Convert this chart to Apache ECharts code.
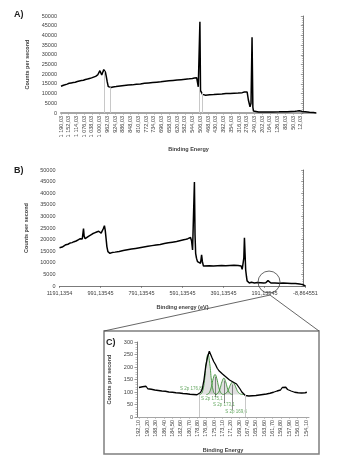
<!DOCTYPE html>
<html><head><meta charset="utf-8">
<script src="https://cdn.jsdelivr.net/npm/echarts@6/dist/echarts.min.js"></script>
<style>html,body{margin:0;padding:0;background:#fff}#c{width:337px;height:463px}</style>
</head><body><div id="c"></div>
<script>
// ---------- Panel A (survey, Excel category-style axis) ----------
const A_energy = [1190,1185,1178,1170,1160,1150,1140,1130,1120,1110,1100,1090,1080,1070,1060,1050,1040,1030,1020,1010,1004,999,995,990,986,980,976,972,968,963,958,952,945,935,920,900,880,860,840,820,800,780,760,740,720,700,680,660,640,620,600,580,560,545,535,528,524,520,516,512,508,505,500,495,490,480,460,440,420,400,380,360,340,320,300,290,282,276,270,262,257,252,248,245,240,220,200,180,150,120,100,80,60,40,30,20,15,5,-10,-30,-50,-62];
const A_counts = [13800,14600,14300,15000,14900,15300,15500,15700,15900,16200,16500,16700,16900,17300,17500,17800,18100,18500,18900,19600,20600,21800,21000,19600,20500,22400,23000,21000,19000,16000,13600,13000,13200,13400,13600,13900,14200,14400,14500,14800,15000,15300,15500,15700,15900,16100,16400,16600,16800,17000,17200,17400,17600,17800,18000,18300,18200,17500,13500,12500,47000,11500,10500,9600,9300,9200,9400,9500,9700,9800,10000,10100,10200,10300,10500,10800,11000,10800,6700,3200,5000,39000,3000,1000,600,500,550,500,550,600,650,700,800,900,1000,1200,900,800,700,400,200,0];
const A_fitLineE = [979, 949, 513, 498];
const A_fitLineTop = [21500, 13200, 12500, 10500];
const A_tickValues = [1190.03,1152.03,1114.03,1076.03,1038.03,1000.03,962.03,924.03,886.03,848.03,810.03,772.03,734.03,696.03,658.03,620.03,582.03,544.03,506.03,468.03,430.03,392.03,354.03,316.03,278.03,240.03,202.03,164.03,126.03,88.03,50.03,12.03];
const A_tickLabels = ["1 190,03","1 152,03","1 114,03","1 076,03","1 038,03","1 000,03","962,03","924,03","886,03","848,03","810,03","772,03","734,03","696,03","658,03","620,03","582,03","544,03","506,03","468,03","430,03","392,03","354,03","316,03","278,03","240,03","202,03","164,03","126,03","88,03","50,03","12,03"];

// ---------- Panel B (survey, eV) ----------
const B_energy = [1191,1185,1178,1170,1160,1150,1140,1130,1120,1110,1100,1090,1085,1080,1077,1074,1071,1066,1060,1050,1040,1030,1020,1010,1000,993,988,982,977,972,968,964,960,955,950,945,935,920,900,880,860,840,820,800,780,760,740,720,700,680,660,640,620,600,580,565,552,547,542,537,533,530,527,523,518,510,503,498,494,489,480,460,440,420,400,380,360,340,320,312,305,300,297,292,289,286,283,279,276,272,265,255,250,240,225,210,195,185,178,174,170,160,140,120,100,80,60,40,20,10,0,-8.86];
const B_counts = [16500,16000,16800,17300,17800,18000,18500,18700,19100,19400,19900,20400,20700,20300,21000,24800,21500,20400,20800,21400,21900,22500,22900,23300,23600,24200,22800,23500,24800,26000,24000,20500,17000,14800,14300,14100,14400,14600,14900,15300,15600,15900,16200,16500,16800,17100,17400,17700,17900,18300,18600,18900,19200,19600,20000,20400,20900,19500,15500,16200,44800,22000,14100,12000,10500,9900,9800,13400,10500,8600,8500,8700,8600,8700,8800,8700,8800,8900,8800,8900,8600,7200,6500,12000,20800,14000,7000,4000,2200,1500,1300,1600,1400,1300,1500,1400,1300,1400,1700,2300,1600,1300,1300,1200,1300,1200,1100,1100,900,700,400,0];
const B_tickValues = [1191.1354, 991.13545, 791.13545, 591.13545, 391.13545, 191.13545, -8.864551];
const B_tickLabels = ["1191,1354","991,13545","791,13545","591,13545","391,13545","191,13545","-8,864551"];

// ---------- Panel C (S 2p region) ----------
const C_energy = [192.1,191.7,191.3,190.9,190.5,190.1,189.7,189.3,188.9,188.5,188.1,187.7,187.3,186.9,186.5,186.1,185.7,185.3,184.9,184.5,184.1,183.7,183.3,182.9,182.5,182.1,181.7,181.3,180.9,180.5,180.1,179.7,179.3,178.9,178.5,178.1,177.7,177.3,176.9,176.5,176.1,175.8,175.5,175.1,174.7,174.3,173.9,173.5,173.1,172.7,172.3,171.9,171.5,171.1,170.7,170.3,169.9,169.5,169.1,168.7,168.3,167.9,167.5,167.1,166.7,166.3,165.9,165.5,165.1,164.7,164.3,163.9,163.5,163.1,162.7,162.3,161.9,161.5,161.1,160.7,160.3,159.9,159.5,159.1,158.7,158.3,157.9,157.5,157.1,156.7,156.3,155.9,155.5,155.1,154.7,154.3,153.9];
const C_counts = [118,112,121,115,123,113,120,111,117,108,114,106,112,104,110,103,108,100,106,99,104,97,102,96,100,94,99,93,97,91,96,90,95,89,94,98,112,150,205,240,263,255,238,222,210,195,185,180,172,165,160,152,148,143,140,136,132,125,112,100,92,86,90,84,89,85,91,86,92,88,94,90,95,92,98,95,101,99,106,104,112,108,118,112,119,110,113,104,106,99,103,97,101,96,100,97,99];
const C_comp1E = [178.4,178.0,177.6,177.2,176.8,176.4,176.0,175.6,175.2,174.8,174.4];
const C_comp1V = [90,92,105,146,213,250,213,146,105,92,90];
const C_comp2E = [176.8,176.4,176.0,175.6,175.2,174.8,174.4,174.0,173.6,173.2,172.8];
const C_comp2V = [90,92,101,123,154,170,154,123,101,92,90];
const C_comp3E = [174.8,174.4,174.0,173.6,173.2,172.8,172.4,172.0,171.6,171.2,170.8];
const C_comp3V = [90,92,99,117,142,155,142,117,99,92,90];
const C_comp4E = [172.8,172.4,172.0,171.6,171.2,170.8,170.4,170.0,169.6,169.2,168.8,168.4,168.0];
const C_comp4V = [91,94,101,116,132,140,132,116,101,94,91,90,90];
const C_fitBaseline = 90;
const C_fitBoundsE = [178.4, 168.0];
const C_peakLabels = ["S 2p 176,8","S 2p 175,1","S 2p 173,1","S 2p 169,6"];
const C_peakLabelE = [180.3, 175.5, 172.8, 170.0];
const C_peakLabelV = [112, 72, 48, 20];
const C_leaderE = [174.8, 172.8, 170.8];
const C_leaderFromV = [80, 56, 28];
const C_leaderToV = [160, 145, 130];
const C_tickValues = [192.1,190.2,188.3,186.4,184.5,182.6,180.7,178.8,176.9,175.0,173.1,171.2,169.3,167.4,165.5,163.6,161.7,159.8,157.9,156.0,154.1];
const C_tickLabels = ["192,10","190,20","188,30","186,40","184,50","182,60","180,70","178,80","176,90","175,00","173,10","171,20","169,30","167,40","165,50","163,60","161,70","159,80","157,90","156,00","154,10"];
// zoomed region in panel B
const B_zoomCenter = [169, 1700];

const FONT = "'Liberation Sans', Arial, sans-serif";
const TXT = '#404040';
const GREEN = '#3f923a';
const zip = (a, b) => a.map((v, i) => [v, b[i]]);
function labelFor(vals, labs) {
  return v => { let bi = 0, bd = Infinity; vals.forEach((t, i) => { const d = Math.abs(t - v); if (d < bd) { bd = d; bi = i; } }); return labs[bi]; };
}
function yAxisCfg(gi, max, interval, gap) {
  return {
    gridIndex: gi, type: 'value', min: 0, max: max, interval: interval,
    name: 'Counts per second', nameLocation: 'middle', nameRotate: 90, nameGap: gap,
    nameTextStyle: { fontFamily: FONT, fontSize: 5.5, fontWeight: 'bold', color: TXT },
    axisLine: { show: true, lineStyle: { color: '#595959', width: 0.8 } },
    axisTick: { show: true, length: 2.5, lineStyle: { color: '#595959', width: 0.6 } },
    minorTick: { show: true, splitNumber: 5, length: 1.5, lineStyle: { color: '#7f7f7f', width: 0.5 } },
    splitLine: { show: false },
    axisLabel: { fontFamily: FONT, fontSize: 5.5, color: TXT, margin: 4, formatter: v => String(v) }
  };
}
const chart = echarts.init(document.getElementById('c'), null, { renderer: 'canvas' });
const option = {
  animation: false,
  backgroundColor: '#fff',
  grid: [
    { left: 61, top: 16, width: 255, height: 97, outerBoundsMode: 'none', containLabel: false },
    { left: 59.5, top: 170, width: 246, height: 116, outerBoundsMode: 'none', containLabel: false },
    { left: 137, top: 342, width: 172, height: 75, outerBoundsMode: 'none', containLabel: false }
  ],
  xAxis: [
    { gridIndex: 0, type: 'value', inverse: true, min: -62, max: 1190.03,
      name: 'Binding Energy', nameLocation: 'middle', nameGap: 33,
      nameTextStyle: { fontFamily: FONT, fontSize: 5.5, fontWeight: 'bold', color: TXT },
      axisLine: { show: true, onZero: false, lineStyle: { color: '#a6a6a6', width: 2 } },
      axisTick: { show: true, customValues: A_tickValues, length: 2, lineStyle: { color: '#a6a6a6', width: 0.6 } },
      axisLabel: { customValues: A_tickValues, rotate: 90, fontFamily: FONT, fontSize: 5.5, color: TXT, margin: 3, formatter: labelFor(A_tickValues, A_tickLabels) },
      splitLine: { show: false } },
    { gridIndex: 1, type: 'value', inverse: true, min: -8.864551, max: 1191.1354,
      name: 'Binding energy (eV)', nameLocation: 'middle', nameGap: 18,
      nameTextStyle: { fontFamily: FONT, fontSize: 5.5, fontWeight: 'bold', color: TXT },
      axisLine: { show: true, onZero: false, lineStyle: { color: '#595959', width: 0.8 } },
      axisTick: { show: true, customValues: B_tickValues, length: 2, lineStyle: { color: '#595959', width: 0.6 } },
      axisLabel: { customValues: B_tickValues, fontFamily: FONT, fontSize: 5.5, color: TXT, margin: 4, formatter: labelFor(B_tickValues, B_tickLabels) },
      splitLine: { show: false } },
    { gridIndex: 2, type: 'value', inverse: true, min: 153.42, max: 192.55,
      name: 'Binding Energy', nameLocation: 'middle', nameGap: 30,
      nameTextStyle: { fontFamily: FONT, fontSize: 5.5, fontWeight: 'bold', color: TXT },
      axisLine: { show: true, onZero: false, lineStyle: { color: '#a6a6a6', width: 1 } },
      axisTick: { show: true, customValues: C_tickValues, length: 2, lineStyle: { color: '#a6a6a6', width: 0.6 } },
      axisLabel: { customValues: C_tickValues, rotate: 90, fontFamily: FONT, fontSize: 5.5, color: TXT, margin: 3, formatter: labelFor(C_tickValues, C_tickLabels) },
      splitLine: { show: false } }
  ],
  yAxis: [
    yAxisCfg(0, 50000, 5000, 27),
    yAxisCfg(1, 50000, 5000, 28),
    yAxisCfg(2, 300, 50, 22)
  ],
  series: [
    { type: 'line', xAxisIndex: 0, yAxisIndex: 0, data: A_fitLineE.map(() => null), showSymbol: false, silent: true,
      markLine: { silent: true, symbol: 'none', label: { show: false }, lineStyle: { color: '#c8c8c8', width: 1, type: 'solid' },
        data: A_fitLineE.map((e, i) => [{ coord: [e, 0] }, { coord: [e, A_fitLineTop[i]] }]) } },
    { type: 'line', xAxisIndex: 0, yAxisIndex: 0, data: zip(A_energy, A_counts), showSymbol: false,
      lineStyle: { color: '#000', width: 1.5 } },
    { type: 'line', xAxisIndex: 1, yAxisIndex: 1, data: zip(B_energy, B_counts), showSymbol: false,
      lineStyle: { color: '#000', width: 1.5 } },
    { type: 'line', xAxisIndex: 2, yAxisIndex: 2, data: C_fitBoundsE.map(() => null), showSymbol: false, silent: true,
      markLine: { silent: true, symbol: 'none', label: { show: false }, lineStyle: { color: '#c8c8c8', width: 1, type: 'solid' },
        data: C_fitBoundsE.map(e => [{ coord: [e, 0] }, { coord: [e, C_fitBaseline] }]) } },
    ...[[C_comp1E, C_comp1V], [C_comp2E, C_comp2V], [C_comp3E, C_comp3V], [C_comp4E, C_comp4V]].map(([e, v]) => ({
      type: 'line', xAxisIndex: 2, yAxisIndex: 2, data: zip(e, v), showSymbol: false, smooth: true,
      lineStyle: { color: GREEN, width: 0.9 },
      areaStyle: { origin: C_fitBaseline, color: 'rgba(140,140,140,0.38)' }
    })),
    { type: 'line', xAxisIndex: 2, yAxisIndex: 2, data: C_leaderE.map(() => null), showSymbol: false, silent: true,
      markLine: { silent: true, symbol: 'none', label: { show: false }, lineStyle: { color: '#404040', width: 0.6, type: 'solid' },
        data: C_leaderE.map((e, i) => [{ coord: [e, C_leaderFromV[i]] }, { coord: [e, C_leaderToV[i]] }]) } },
    { type: 'line', xAxisIndex: 2, yAxisIndex: 2, data: zip(C_energy, C_counts), showSymbol: false,
      lineStyle: { color: '#000', width: 1.3 } },
    { type: 'scatter', xAxisIndex: 2, yAxisIndex: 2, symbolSize: 0, silent: true,
      data: C_peakLabelE.map((e, i) => ({ value: [e, C_peakLabelV[i]], name: C_peakLabels[i] })),
      label: { show: true, position: 'inside', formatter: p => p.name, fontFamily: FONT, fontSize: 4.5, color: GREEN,
        backgroundColor: '#fff', padding: [0, 0.5] } }
  ]
};
chart.setOption(option);
const cc = chart.convertToPixel({ xAxisIndex: 1, yAxisIndex: 1 }, B_zoomCenter);
const boxL = 104, boxT = 331, boxR = 319, boxB = 454;
chart.setOption({
  graphic: [
    { type: 'rect', shape: { x: boxL, y: boxT, width: boxR - boxL, height: boxB - boxT }, style: { fill: null, stroke: '#7f7f7f', lineWidth: 1.5 }, z: 100 },
    { type: 'circle', shape: { cx: cc[0], cy: cc[1], r: 11 }, style: { fill: null, stroke: '#404040', lineWidth: 0.8 }, z: 100 },
    { type: 'line', shape: { x1: cc[0] + 1, y1: cc[1] + 13, x2: boxL, y2: boxT }, style: { stroke: '#404040', lineWidth: 0.8 }, z: 100 },
    { type: 'line', shape: { x1: cc[0] + 1, y1: cc[1] + 13, x2: boxR, y2: boxT }, style: { stroke: '#404040', lineWidth: 0.8 }, z: 100 },
    { type: 'text', x: 14, y: 10, style: { text: 'A)', fontFamily: FONT, fontSize: 9, fontWeight: 'bold', fill: '#222' } },
    { type: 'text', x: 14, y: 166, style: { text: 'B)', fontFamily: FONT, fontSize: 9, fontWeight: 'bold', fill: '#222' } },
    { type: 'text', x: 106, y: 338, style: { text: 'C)', fontFamily: FONT, fontSize: 9, fontWeight: 'bold', fill: '#222' } }
  ]
});
</script></body></html>
